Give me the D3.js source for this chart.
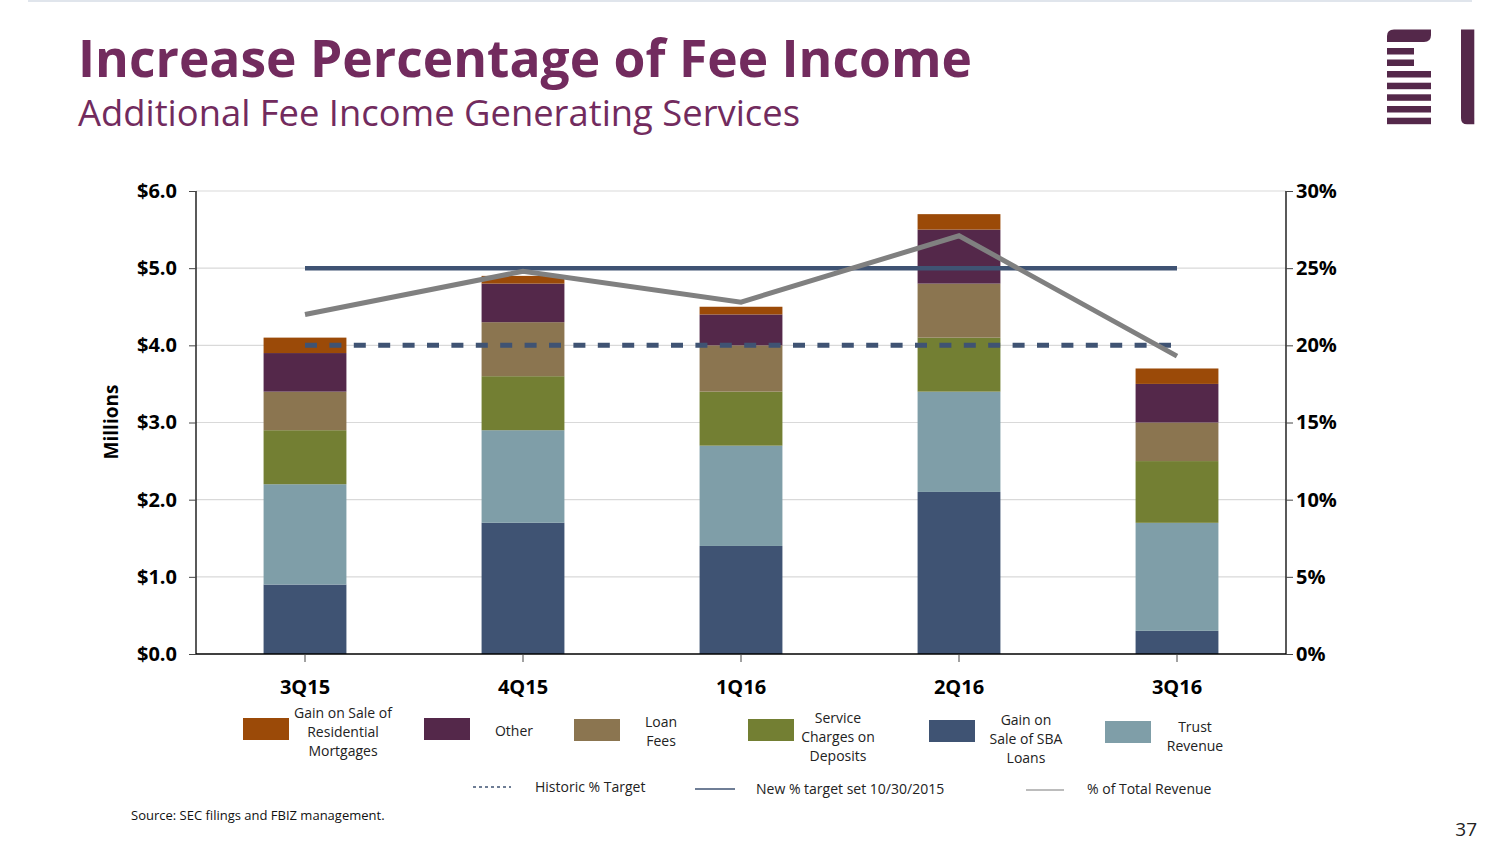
<!DOCTYPE html>
<html><head><meta charset="utf-8">
<script src="https://cdn.jsdelivr.net/npm/d3@7"></script>
<style>
html,body{margin:0;padding:0;background:#fff;}
svg{display:block;font-family:"Open Sans","Noto Sans",sans-serif;}
</style></head>
<body>
<svg id="chart" width="1504" height="846"></svg>
<script>
// ---- data ----
const categories = ["3Q15","4Q15","1Q16","2Q16","3Q16"];
const sbaGain      = [0.9, 1.7, 1.4, 2.1, 0.3];
const trustRevenue = [1.3, 1.2, 1.3, 1.3, 1.4];
const serviceCharges = [0.7, 0.7, 0.7, 0.7, 0.8];
const loanFees     = [0.5, 0.7, 0.6, 0.7, 0.5];
const otherIncome  = [0.5, 0.5, 0.4, 0.7, 0.5];
const residentialGain = [0.2, 0.1, 0.1, 0.2, 0.2];
const pctTotalRevenue = [0.220, 0.248, 0.228, 0.271, 0.193];
const historicTarget = 0.20;
const newTarget = 0.25;
const leftTicks = [0,1,2,3,4,5,6];
const rightTicks = [0,0.05,0.10,0.15,0.20,0.25,0.30];

const seriesNames = ["Gain on Sale of SBA Loans","Trust Revenue","Service Charges on Deposits","Loan Fees","Other","Gain on Sale of Residential Mortgages"];
const seriesValues = [sbaGain, trustRevenue, serviceCharges, loanFees, otherIncome, residentialGain];
const seriesColors = ["#3f5373","#7f9ea8","#737f33","#8b7550","#54284a","#9b4a08"];

// legend (left-to-right order as shown)
const legendOrder = [5,4,3,2,0,1];
const legendLabels = [
  ["Gain on Sale of","Residential","Mortgages"],
  ["Other"],
  ["Loan","Fees"],
  ["Service","Charges on","Deposits"],
  ["Gain on","Sale of SBA","Loans"],
  ["Trust","Revenue"]
];
const legendSwatchX = [243,424,574,748,929,1105];
const legendSwatchY = [718,718,719,719,720,721];
const legendTextX = [343,514,661,838,1026,1195];
const legendTextY = [713,731,722,718,720,727];

const svg = d3.select("#chart");
const purple = "#722b5e";

// top rule
svg.append("line").attr("x1",28).attr("x2",1472).attr("y1",1).attr("y2",1)
  .attr("stroke","#d6dce6").attr("stroke-width",1.5);

// title
svg.append("text").attr("x",78).attr("y",77).attr("fill",purple)
  .attr("font-size",52).attr("font-weight",700)
  .attr("textLength",894).attr("lengthAdjust","spacingAndGlyphs")
  .text("Increase Percentage of Fee Income");
svg.append("text").attr("x",78).attr("y",126).attr("fill",purple)
  .attr("font-size",36)
  .attr("textLength",722).attr("lengthAdjust","spacingAndGlyphs")
  .text("Additional Fee Income Generating Services");

// logo
const logoC = "#54284a";
const lg = svg.append("g");
lg.append("path").attr("fill",logoC)
  .attr("d","M1387,42 L1387,36 Q1387,29.5 1394,29.5 L1431,29.5 L1431,35 Q1431,42 1424,42 Z");
[[48,27],[59.5,27],[71,44],[82.7,44],[94.3,44],[106,44],[117.7,44]].forEach(([y,w])=>{
  lg.append("rect").attr("x",1387).attr("y",y).attr("width",w).attr("height",6.5).attr("fill",logoC);
});
lg.append("path").attr("fill",logoC)
  .attr("d","M1461,29.5 L1474.3,29.5 L1474.3,124.3 L1467,124.3 Q1461,124.3 1461,118 Z");

// scales
const x = d3.scaleBand().domain(categories).range([196,1286]).padding(0);
const y = d3.scaleLinear().domain([0,6]).range([654,191]);
const y2 = d3.scaleLinear().domain([0,0.30]).range([654,191]);
const cx = c => x(c) + x.bandwidth()/2;
const barW = x.bandwidth()*0.38;

// gridlines
svg.append("g").selectAll("line").data(leftTicks.filter(d=>d>0)).join("line")
  .attr("x1",196).attr("x2",1286).attr("y1",d=>y(d)).attr("y2",d=>y(d))
  .attr("stroke","#d9d9d9").attr("stroke-width",1.2);

// stacked bars
const rows = categories.map((c,i)=>{
  const o = {cat:c};
  seriesNames.forEach((n,k)=>o[n]=seriesValues[k][i]);
  return o;
});
const stack = d3.stack().keys(seriesNames)(rows);
svg.append("g").selectAll("g").data(stack).join("g")
  .attr("fill",(d,k)=>seriesColors[k])
  .selectAll("rect").data(d=>d).join("rect")
  .attr("x",d=>cx(d.data.cat)-barW/2).attr("width",barW)
  .attr("y",d=>y(d[1])).attr("height",d=>y(d[0])-y(d[1]));

// axes
const axL = svg.append("g").attr("transform","translate(196,0)")
  .call(d3.axisLeft(y).tickValues(leftTicks).tickFormat(d3.format("$.1f")).tickSize(7).tickPadding(12));
const axR = svg.append("g").attr("transform","translate(1286,0)")
  .call(d3.axisRight(y2).tickValues(rightTicks).tickFormat(d3.format(".0%")).tickSize(7).tickPadding(3));
const axB = svg.append("g").attr("transform","translate(0,654)")
  .call(d3.axisBottom(x).tickSize(8).tickPadding(18));
[axL,axR,axB].forEach(a=>{
  a.select(".domain").attr("stroke","#000").attr("stroke-width",1.3);
  a.selectAll(".tick line").attr("stroke","#444").attr("stroke-width",1);
  a.selectAll("text").attr("font-size",20).attr("font-weight",700).attr("fill","#000")
    .attr("font-family","'Open Sans',sans-serif");
});
axB.select(".domain").attr("d","M196,0H1286");
axL.select(".domain").attr("d","M0,654V191");
axR.select(".domain").attr("d","M0,654V191");

// y title
svg.append("text").attr("transform","translate(118,422) rotate(-90)")
  .attr("text-anchor","middle").attr("font-size",19).attr("font-weight",700).attr("fill","#000")
  .text("Millions");

// target lines
const x0 = cx(categories[0]), x1 = cx(categories[categories.length-1]);
svg.append("line").attr("x1",x0).attr("x2",x1).attr("y1",y2(historicTarget)).attr("y2",y2(historicTarget))
  .attr("stroke","#3f5373").attr("stroke-width",5).attr("stroke-dasharray","12,12.4");
svg.append("line").attr("x1",x0).attr("x2",x1).attr("y1",y2(newTarget)).attr("y2",y2(newTarget))
  .attr("stroke","#3f5373").attr("stroke-width",4.5);
svg.append("path").datum(pctTotalRevenue)
  .attr("fill","none").attr("stroke","#808080").attr("stroke-width",5)
  .attr("d",d3.line().x((d,i)=>cx(categories[i])).y(d=>y2(d)));

// legend
const lgd = svg.append("g").attr("font-size",14).attr("fill","#222");
legendOrder.forEach((k,j)=>{
  lgd.append("rect").attr("x",legendSwatchX[j]).attr("y",legendSwatchY[j]).attr("width",46).attr("height",22)
    .attr("fill",seriesColors[k]);
  legendLabels[j].forEach((t,li)=>{
    lgd.append("text").attr("x",legendTextX[j]).attr("y",legendTextY[j]+li*19)
      .attr("dy","0.35em").attr("text-anchor","middle").attr("fill","#222").text(t);
  });
});
// line legend
const ll = svg.append("g").attr("font-size",14);
ll.append("line").attr("x1",473).attr("x2",511).attr("y1",787).attr("y2",787)
  .attr("stroke","#3f5373").attr("stroke-width",1.5).attr("stroke-dasharray","3,3");
ll.append("text").attr("x",535).attr("y",787).attr("dy","0.35em").attr("fill","#222").text("Historic % Target");
ll.append("line").attr("x1",695).attr("x2",735).attr("y1",789).attr("y2",789)
  .attr("stroke","#3f5373").attr("stroke-width",1.5);
ll.append("text").attr("x",756).attr("y",789).attr("dy","0.35em").attr("fill","#222").text("New % target set 10/30/2015");
ll.append("line").attr("x1",1026).attr("x2",1064).attr("y1",790).attr("y2",790)
  .attr("stroke","#a6a6a6").attr("stroke-width",1.5);
ll.append("text").attr("x",1087).attr("y",789).attr("dy","0.35em").attr("fill","#222").text("% of Total Revenue");

// source & page number
svg.append("text").attr("x",131).attr("y",815).attr("dy","0.35em").attr("font-size",13).attr("fill","#111")
  .text("Source: SEC filings and FBIZ management.");
svg.append("text").attr("x",1477).attr("y",829).attr("dy","0.35em").attr("text-anchor","end")
  .attr("font-size",19).attr("fill","#222").text("37");
</script>
</body></html>
